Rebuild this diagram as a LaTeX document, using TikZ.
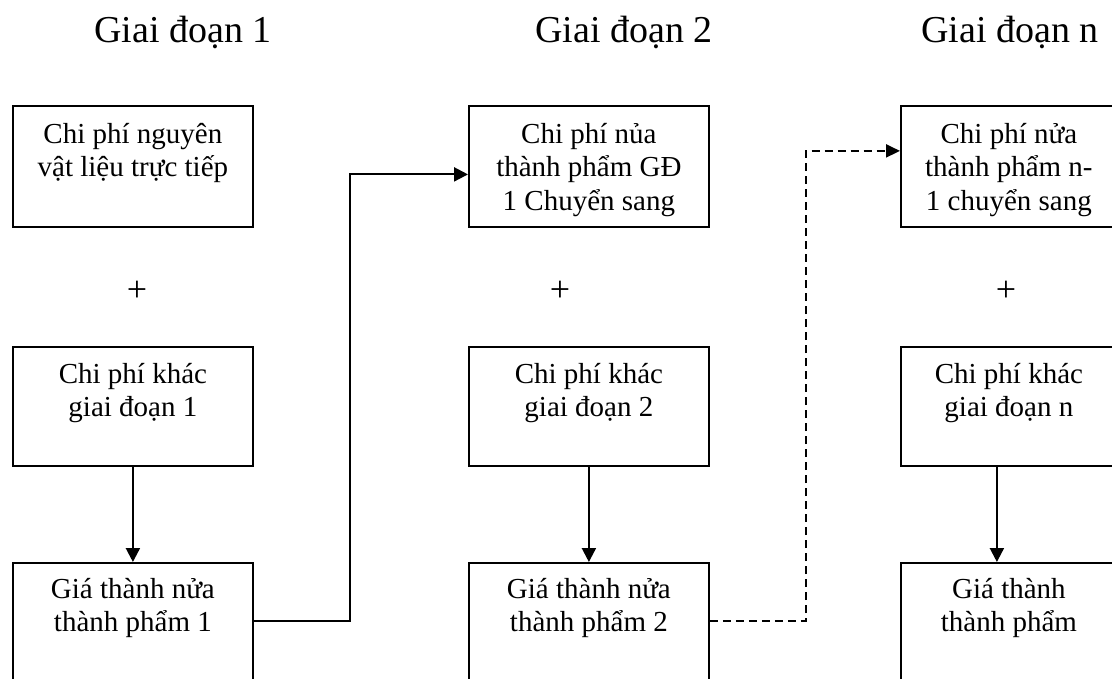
\documentclass[tikz,border=0pt]{standalone}
\usepackage{fontspec}
\setmainfont{Liberation Serif}
\usetikzlibrary{arrows.meta}
\begin{document}
\begin{tikzpicture}[x=1pt,y=-1pt,
  box/.style={draw, line width=1.8pt, minimum width=240pt, inner sep=0pt, anchor=north west},
  boxn/.style={box, minimum width=220pt},
  txt/.style={align=center, inner sep=0pt, anchor=north, font=\fontsize{29}{33.5}\selectfont},
  ttl/.style={anchor=base, inner sep=0pt, font=\fontsize{38}{44}\selectfont},
  plus/.style={inner sep=0pt, font=\fontsize{36}{40}\selectfont},
  conn/.style={line width=2.2pt, -{Triangle[length=14pt,width=14pt]}},
  dconn/.style={line width=2pt, dash pattern=on 8pt off 5pt, -{Triangle[length=14pt,width=13pt]}},
]
\useasboundingbox (0,0) rectangle (1112,679);
\clip (0,0) rectangle (1112,679);

% stage headings
\node[ttl] (h1) at (183,43) {Giai đoạn 1};
\node[ttl] (h2) at (624,43) {Giai đoạn 2};
\node[ttl] (hn) at (1010,43) {Giai đoạn n};

% stage 1
\node[box, minimum height=121pt] (t1) at (12,105) {};
\node[txt] (t1x) at ([yshift=-14.5pt]t1.north) {\strut Chi phí nguyên\\vật liệu trực tiếp};
\node[plus] (p1) at (137,291) {+};
\node[box, minimum height=119pt] (m1) at (12,346) {};
\node[txt] (m1x) at ([yshift=-13.5pt]m1.north) {\strut Chi phí khác\\giai đoạn 1};
\node[box, minimum height=140pt] (b1) at (12,562) {};
\node[txt] (b1x) at ([yshift=-12.5pt]b1.north) {\strut Giá thành nửa\\thành phẩm 1};

% stage 2
\node[box, minimum height=121pt] (t2) at (468,105) {};
\node[txt] (t2x) at ([yshift=-14.5pt]t2.north) {\strut Chi phí nủa\\thành phẩm GĐ\\1 Chuyển sang};
\node[plus] (p2) at (560,291) {+};
\node[box, minimum height=119pt] (m2) at (468,346) {};
\node[txt] (m2x) at ([yshift=-13.5pt]m2.north) {\strut Chi phí khác\\giai đoạn 2};
\node[box, minimum height=140pt] (b2) at (468,562) {};
\node[txt] (b2x) at ([yshift=-12.5pt]b2.north) {\strut Giá thành nửa\\thành phẩm 2};

% stage n
\node[boxn, minimum height=121pt] (tn) at (900,105) {};
\node[txt] (tnx) at ([yshift=-14.5pt,xshift=-2pt]tn.north) {\strut Chi phí nửa\\thành phẩm n-\\1 chuyển sang};
\node[plus] (pn) at (1006,291) {+};
\node[boxn, minimum height=119pt] (mn) at (900,346) {};
\node[txt] (mnx) at ([yshift=-13.5pt,xshift=-2pt]mn.north) {\strut Chi phí khác\\giai đoạn n};
\node[boxn, minimum height=140pt] (bn) at (900,562) {};
\node[txt] (bnx) at ([yshift=-12.5pt,xshift=-2pt]bn.north) {\strut Giá thành\\thành phẩm};

% flow inside each stage
\draw[conn] (m1.south) -- (b1.north);
\draw[conn] (m2.south) -- (b2.north);
\draw[conn] ([xshift=-14pt]mn.south) -- ([xshift=-14pt]bn.north);

% transfer between stages
\draw[conn] ([yshift=-59pt]b1.north east) -- ++(96,0) |- ([yshift=-8pt]t2.west);
\draw[dconn] ([yshift=-59pt]b2.north east) -- ++(96,0) |- ([yshift=15.5pt]tn.west);
\end{tikzpicture}
\end{document}
